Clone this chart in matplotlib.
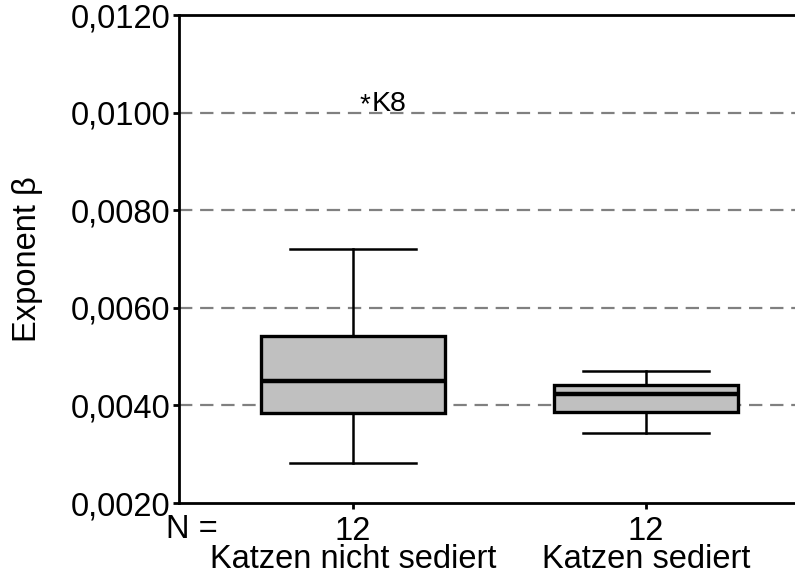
import matplotlib.pyplot as plt

plt.rcParams['font.family'] = ['Liberation Sans', 'DejaVu Sans']

# Boxplot statistics
groups = ['Katzen nicht sediert', 'Katzen sediert']
n_values = [12, 12]
whislo = [0.00283, 0.00343]
q1 = [0.00385, 0.00386]
med = [0.00451, 0.00423]
q3 = [0.00542, 0.00442]
whishi = [0.00720, 0.00470]
outlier_val = 0.01018
outlier_label = 'K8'

yticks = [0.0020, 0.0040, 0.0060, 0.0080, 0.0100, 0.0120]
grid_vals = [0.0040, 0.0060, 0.0080, 0.0100]

FS = 23.5

stats = []
for i, g in enumerate(groups):
    stats.append({'label': g, 'whislo': whislo[i], 'q1': q1[i], 'med': med[i],
                  'q3': q3[i], 'whishi': whishi[i], 'fliers': []})

fig = plt.figure(figsize=(7.95, 5.75), dpi=100)
ax = fig.add_axes([0.2252, 0.1252, 0.7748, 0.8487])

for v in grid_vals:
    ax.axhline(v, color='#808080', lw=1.6, ls=(0, (6, 3.5)), zorder=0)

ax.bxp(stats, positions=[1, 2], widths=0.628, capwidths=0.433, patch_artist=True,
       showfliers=False,
       boxprops=dict(facecolor='#c0c0c0', edgecolor='black', linewidth=2.4),
       medianprops=dict(color='black', linewidth=3.2),
       whiskerprops=dict(color='black', linewidth=1.8),
       capprops=dict(color='black', linewidth=1.8))

# extreme value marker
ax.text(1.04, outlier_val - 0.00003, '*', fontsize=20, ha='center', va='center')
ax.text(1.062, outlier_val, outlier_label, fontsize=20.5, ha='left', va='center')

ax.set_xlim(0.406, 2.509)
ax.set_ylim(0.0020, 0.0120)
ax.set_yticks(yticks)
ax.set_yticklabels([f'{v:.4f}'.replace('.', ',') for v in yticks], fontsize=FS)
ax.set_xticks([1, 2])
ax.set_xticklabels([str(n) for n in n_values], fontsize=FS)
ax.tick_params(axis='y', direction='out', length=4, width=2, pad=2)
ax.tick_params(axis='x', direction='out', length=4, width=2, pad=5)

for s in ['left', 'bottom', 'top']:
    ax.spines[s].set_linewidth(2)
ax.spines['right'].set_visible(False)

ax.set_ylabel('Exponent β', fontsize=FS, labelpad=20)

fig.text(0.241, 0.064, 'N =', fontsize=FS, ha='center', va='baseline')
for i, g in enumerate(groups):
    ax.text(i + 1, -0.115, g, transform=ax.get_xaxis_transform(), fontsize=FS,
            ha='center', va='center')

fig.savefig('out.png', dpi=100)
